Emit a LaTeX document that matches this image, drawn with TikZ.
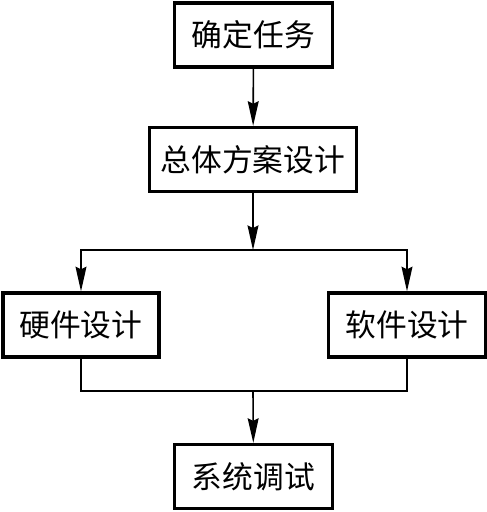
\documentclass[tikz,border=0pt]{standalone}
\usepackage{fontspec}
\setmainfont{Noto Sans CJK SC}
\usetikzlibrary{arrows.meta}

\begin{document}
\begin{tikzpicture}[
    % Node styles
    stage/.style={
        draw,
        line width=1.9pt,
        minimum width=3.16cm,
        minimum height=1.28cm,
        inner sep=0pt,
        align=center,
        font=\fontsize{17.5}{21}\selectfont
    },
    % Arrow style
    arrow/.style={line width=0.9pt, -{Stealth[length=14pt, width=6.2pt, inset=1.5pt]}},
    link/.style={line width=0.9pt}
    ]

    % Fixed frame with the margins of the figure
    \useasboundingbox (0,0) rectangle (9.74,-10.24);

    % Top chain
    \node[stage] (task) at (5.07,-0.70) {确定任务};
    \node[stage, minimum width=4.14cm] (plan) at (5.06,-3.19) {总体方案设计};

    % Two design branches
    \node[stage, minimum width=3.12cm] (hw) at (1.62,-6.50) {硬件设计};
    \node[stage, minimum width=3.14cm] (sw) at (8.14,-6.50) {软件设计};

    % Final stage
    \node[stage] (test) at (5.07,-9.53) {系统调试};

    % Split and merge points
    \coordinate (split) at (5.06,-5.00);
    \coordinate (merge) at (5.06,-7.82);

    % Arrows connecting stages
    \draw[arrow] (task) -- (plan);
    \draw[arrow] (plan) -- (split);
    \draw[arrow] (split) -| (hw.north);
    \draw[arrow] (split) -| (sw.north);

    % Join both branches, then down to the test stage
    \draw[link] (hw.south) |- (merge) -| (sw.south);
    \draw[arrow] (merge) -- (test);

\end{tikzpicture}
\end{document}
